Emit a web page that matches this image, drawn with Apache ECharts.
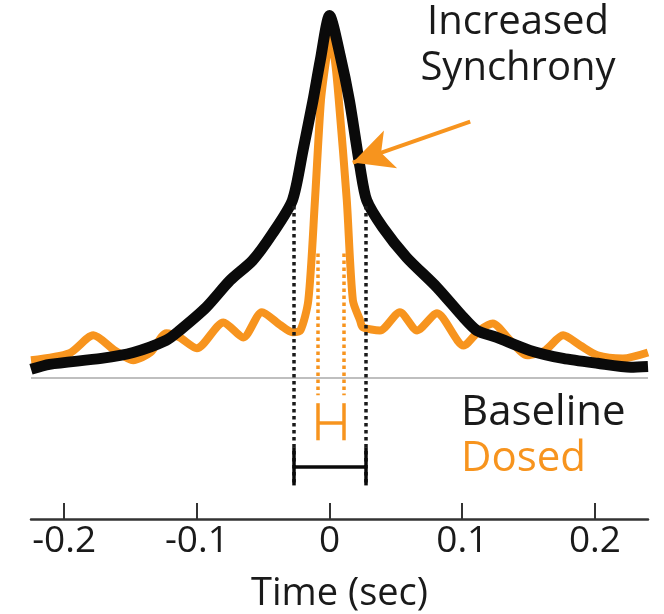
<!DOCTYPE html>
<html>
<head>
<meta charset="utf-8">
<script src="https://cdn.jsdelivr.net/npm/echarts@6/dist/echarts.min.js"></script>
<style>
  html, body { margin: 0; padding: 0; background: #fff; }
  #chart { width: 664px; height: 614px; }
</style>
</head>
<body>
<div id="chart"></div>
<script>
// Cross-correlogram: baseline (black) vs dosed (orange)
const baselineTime = [-0.225, -0.211, -0.172, -0.148, -0.123, -0.113, -0.093, -0.075, -0.058, -0.043, -0.028, -0.020, -0.0125, -0.007, 0.0, 0.008, 0.015, 0.023, 0.028, 0.040, 0.058, 0.081, 0.101, 0.111, 0.126, 0.151, 0.176, 0.202, 0.227, 0.240];
const baselineCorr = [0.023, 0.037, 0.054, 0.071, 0.106, 0.134, 0.200, 0.277, 0.334, 0.411, 0.506, 0.649, 0.791, 0.906, 1.034, 0.920, 0.791, 0.600, 0.506, 0.429, 0.343, 0.257, 0.171, 0.134, 0.114, 0.077, 0.054, 0.040, 0.029, 0.031];

const dosedTime = [-0.225, -0.196, -0.178, -0.162, -0.148, -0.135, -0.123, -0.113, -0.100, -0.080, -0.065, -0.051, -0.037, -0.028, -0.022, -0.016, -0.011, -0.0065, -0.0027, 0.0, 0.004, 0.007, 0.013, 0.0176, 0.023, 0.025, 0.038, 0.053, 0.066, 0.081, 0.101, 0.113, 0.123, 0.136, 0.149, 0.1625, 0.176, 0.189, 0.202, 0.221, 0.240];
const dosedCorr = [0.049, 0.069, 0.120, 0.077, 0.049, 0.071, 0.126, 0.114, 0.083, 0.157, 0.114, 0.186, 0.149, 0.129, 0.134, 0.220, 0.506, 0.791, 0.906, 0.974, 0.906, 0.791, 0.506, 0.220, 0.163, 0.143, 0.134, 0.186, 0.134, 0.183, 0.091, 0.134, 0.154, 0.106, 0.063, 0.077, 0.120, 0.091, 0.063, 0.054, 0.071];

const tickValues = [-0.2, -0.1, 0, 0.1, 0.2];

// peak widths (sec) and annotation heights
const baselineWidth = [-0.027, 0.0275];
const dosedWidth = [-0.009, 0.011];
const baselineDotSpan = [0.49, -0.309];
const dosedDotSpan = [0.354, -0.051];
const baselineBracket = [-0.2, -0.257, -0.309];
const dosedBracket = [-0.074, -0.129, -0.180];
const arrowFrom = [0.106, 0.731];
const arrowTo = [0.0175, 0.614];

const BLACK = '#0a0a0a';
const ORANGE = '#f7941e';
const FONT = '"Open Sans", "Noto Sans", sans-serif';

const pairs = (xs, ys) => xs.map((x, i) => [x, ys[i]]);
const vline = (x, y1, y2) => [{ coord: [x, y1] }, { coord: [x, y2] }];

const chart = echarts.init(document.getElementById('chart'));

chart.setOption({
  animation: false,
  backgroundColor: '#fff',
  grid: { left: 31, right: 16, top: 10, bottom: 95, containLabel: false, outerBoundsMode: 'none' },
  xAxis: {
    type: 'value',
    min: -0.225,
    max: 0.24,
    splitLine: { show: false },
    axisLine: { onZero: false, lineStyle: { color: '#333', width: 2.5 } },
    axisTick: { inside: true, length: 16, lineStyle: { color: '#333', width: 2 }, customValues: tickValues },
    axisLabel: { customValues: tickValues, color: '#1a1a1a', fontSize: 37, fontFamily: FONT, margin: 4 },
    name: 'Time (sec)',
    nameLocation: 'middle',
    nameGap: 56,
    nameTextStyle: { color: '#1a1a1a', fontSize: 38, fontFamily: FONT }
  },
  yAxis: {
    type: 'value',
    min: -0.405,
    max: 1.05,
    show: false
  },
  series: [
    {
      name: 'Dosed',
      type: 'line',
      data: pairs(dosedTime, dosedCorr),
      smooth: 0.25,
      showSymbol: false,
      clip: false,
      lineStyle: { color: ORANGE, width: 8, join: 'round' },
      markLine: {
        silent: true,
        symbol: 'none',
        label: { show: false },
        lineStyle: { color: ORANGE, type: [3.5, 3.5], width: 3.5 },
        data: [
          vline(dosedWidth[0], dosedDotSpan[0], dosedDotSpan[1]),
          vline(dosedWidth[1], dosedDotSpan[0], dosedDotSpan[1]),
          [{ coord: [dosedWidth[0], dosedBracket[0]], lineStyle: { type: 'solid', width: 3.5 } }, { coord: [dosedWidth[0], dosedBracket[2]] }],
          [{ coord: [dosedWidth[1], dosedBracket[0]], lineStyle: { type: 'solid', width: 3.5 } }, { coord: [dosedWidth[1], dosedBracket[2]] }],
          [{ coord: [dosedWidth[0], dosedBracket[1]], lineStyle: { type: 'solid', width: 3.5 } }, { coord: [dosedWidth[1], dosedBracket[1]] }]
        ]
      }
    },
    {
      name: 'Baseline',
      type: 'line',
      data: pairs(baselineTime, baselineCorr),
      smooth: 0.25,
      showSymbol: false,
      clip: false,
      z: 3,
      lineStyle: { color: BLACK, width: 11, join: 'round' },
      markLine: {
        silent: true,
        symbol: 'none',
        label: { show: false },
        lineStyle: { color: '#1a1a1a', type: [3.5, 3.5], width: 3.5 },
        data: [
          [{ coord: [-0.225, 0], lineStyle: { color: '#aaa', type: 'solid', width: 1.5 } }, { coord: [0.24, 0] }],
          vline(baselineWidth[0], baselineDotSpan[0], baselineDotSpan[1]),
          vline(baselineWidth[1], baselineDotSpan[0], baselineDotSpan[1]),
          [{ coord: [baselineWidth[0], baselineBracket[0]], lineStyle: { type: 'solid', width: 3.5, color: BLACK } }, { coord: [baselineWidth[0], baselineBracket[2]] }],
          [{ coord: [baselineWidth[1], baselineBracket[0]], lineStyle: { type: 'solid', width: 3.5, color: BLACK } }, { coord: [baselineWidth[1], baselineBracket[2]] }],
          [{ coord: [baselineWidth[0], baselineBracket[1]], lineStyle: { type: 'solid', width: 3.5, color: BLACK } }, { coord: [baselineWidth[1], baselineBracket[1]] }]
        ]
      }
    },
    {
      // arrow pointing at the increased synchrony
      type: 'line',
      data: [],
      markLine: {
        silent: true,
        symbol: ['none', 'arrow'],
        symbolSize: [30, 40],
        label: { show: false },
        lineStyle: { color: ORANGE, type: 'solid', width: 4 },
        data: [[{ coord: arrowFrom }, { coord: arrowTo }]]
      }
    }
  ],
  graphic: [
    {
      type: 'text',
      x: 518,
      y: 0,
      style: { text: 'Increased\nSynchrony', font: '40px ' + FONT, fill: '#1a1a1a', align: 'center', lineHeight: 46 }
    },
    {
      type: 'text',
      x: 461,
      y: 390,
      style: { text: 'Baseline', font: '42px ' + FONT, fill: '#1a1a1a', lineHeight: 46 }
    },
    {
      type: 'text',
      x: 461,
      y: 436,
      style: { text: 'Dosed', font: '42px ' + FONT, fill: ORANGE, lineHeight: 46 }
    }
  ]
});
</script>
</body>
</html>
